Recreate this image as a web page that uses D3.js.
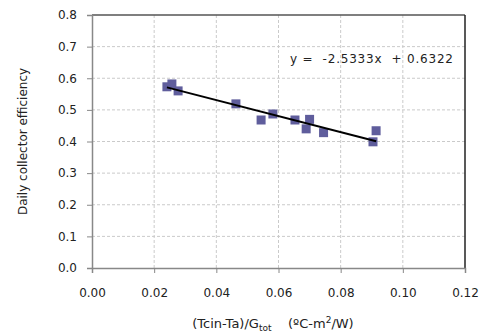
<!DOCTYPE html>
<html>
<head>
<meta charset="utf-8">
<script src="https://cdn.jsdelivr.net/npm/d3@7"></script>
<style>
  body { margin: 0; background: #fff; }
  svg { font-family: "DejaVu Sans", sans-serif; }
</style>
</head>
<body>
<div id="chart"></div>
<script>
// measured points
const xValues = [0.0241, 0.0257, 0.0277, 0.0463, 0.0544, 0.0582, 0.0653, 0.0689, 0.0700, 0.0745, 0.0904, 0.0914];
const yValues = [0.573, 0.582, 0.560, 0.519, 0.468, 0.487, 0.468, 0.440, 0.470, 0.428, 0.399, 0.434];

// linear trend line
const slope = -2.5333,
  intercept = 0.6322;

const xTicks = [0, 0.02, 0.04, 0.06, 0.08, 0.10, 0.12];
const yTicks = [0, 0.1, 0.2, 0.3, 0.4, 0.5, 0.6, 0.7, 0.8];

let width = 481,
  height = 333;
const margin = {top: 15, right: 16, bottom: 65, left: 92};

const x = d3.scaleLinear().domain([0, 0.12]).range([margin.left, width - margin.right]);
const y = d3.scaleLinear().domain([0, 0.8]).range([height - margin.bottom, margin.top]);

const svg = d3.select("#chart")
  .append("svg")
  .attr("width", width)
  .attr("height", height);

// gridlines
svg.append("g")
  .selectAll("line")
  .data(yTicks.slice(1, -1))
  .join("line")
  .attr("x1", x(0)).attr("x2", x(0.12))
  .attr("y1", d => y(d)).attr("y2", d => y(d))
  .attr("stroke", "#cacaca")
  .attr("stroke-dasharray", "3,2");

svg.append("g")
  .selectAll("line")
  .data(xTicks.slice(1, -1))
  .join("line")
  .attr("y1", y(0)).attr("y2", y(0.8))
  .attr("x1", d => x(d)).attr("x2", d => x(d))
  .attr("stroke", "#cacaca")
  .attr("stroke-dasharray", "3,2");

// top and right border
svg.append("line")
  .attr("x1", x(0)).attr("x2", x(0.12))
  .attr("y1", y(0.8)).attr("y2", y(0.8))
  .attr("stroke", "#555").attr("stroke-width", 1.5);
svg.append("line")
  .attr("x1", x(0.12)).attr("x2", x(0.12))
  .attr("y1", y(0.8)).attr("y2", y(0))
  .attr("stroke", "#222").attr("stroke-width", 1.5);

// axes
const xAxis = svg.append("g")
  .attr("transform", `translate(0,${y(0)})`)
  .call(d3.axisBottom(x).tickValues(xTicks).tickFormat(d3.format(".2f")).tickSize(5).tickPadding(15));
const yAxis = svg.append("g")
  .attr("transform", `translate(${x(0)},0)`)
  .call(d3.axisLeft(y).tickValues(yTicks).tickFormat(d3.format(".1f")).tickSize(5).tickPadding(10));

[xAxis, yAxis].forEach(a => {
  a.select(".domain").attr("stroke", "#888").attr("stroke-width", 1.5);
  a.selectAll(".tick line").attr("stroke", "#888");
  a.selectAll("text").attr("font-size", 12).attr("fill", "#222").attr("font-family", "DejaVu Sans");
});

// trend line
const xMin = d3.min(xValues), xMax = d3.max(xValues);

// points
const s = 9;
svg.append("g")
  .selectAll("rect")
  .data(xValues.map((v, i) => [v, yValues[i]]))
  .join("rect")
  .attr("x", d => x(d[0]) - s / 2)
  .attr("y", d => y(d[1]) - s / 2)
  .attr("width", s)
  .attr("height", s)
  .attr("fill", "#5f5d9c");

// line over markers like excel does
svg.append("line")
  .attr("x1", x(xMin)).attr("y1", y(slope * xMin + intercept))
  .attr("x2", x(xMax)).attr("y2", y(slope * xMax + intercept))
  .attr("stroke", "#000")
  .attr("stroke-width", 2);

// equation
svg.append("text")
  .attr("x", 290)
  .attr("y", 63)
  .attr("font-size", 12)
  .attr("fill", "#222")
  .attr("textLength", 163)
  .attr("lengthAdjust", "spacing")
  .attr("xml:space", "preserve")
  .style("white-space", "pre")
  .text(`y =  ${slope}x  + ${intercept}`);

// axis titles
svg.append("text")
  .attr("transform", `translate(27,${(y(0) + y(0.8)) / 2}) rotate(-90)`)
  .attr("text-anchor", "middle")
  .attr("font-size", 12)
  .attr("fill", "#222")
  .text("Daily collector efficiency");

const xt = svg.append("text")
  .attr("x", 273)
  .attr("y", 328)
  .attr("text-anchor", "middle")
  .attr("font-size", 13)
  .attr("fill", "#222")
  .attr("xml:space", "preserve")
  .style("white-space", "pre");
xt.append("tspan").text("(Tcin-Ta)/G");
xt.append("tspan").attr("font-size", 9).attr("dy", 3).text("tot");
xt.append("tspan").attr("dy", -3).text("    (ºC-m");
xt.append("tspan").attr("font-size", 9).attr("dy", -5).text("2");
xt.append("tspan").attr("dy", 5).text("/W)");
</script>
</body>
</html>
